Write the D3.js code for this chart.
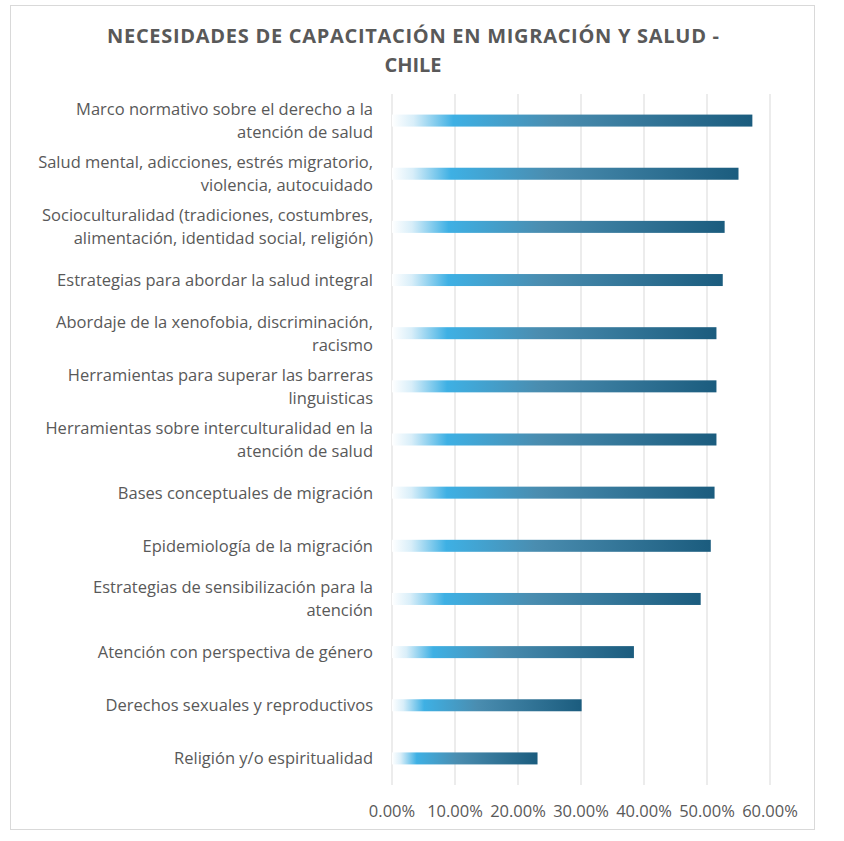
<!DOCTYPE html>
<html><head><meta charset="utf-8">
<script src="https://cdn.jsdelivr.net/npm/d3@7"></script>
<style>body{margin:0;background:#fff;font-family:"Open Sans",sans-serif}</style>
</head><body>
<svg id="chart" width="844" height="841"></svg>
<script>
var categories = [
  ["Marco normativo sobre el derecho a la", "atención de salud"],
  ["Salud mental, adicciones, estrés migratorio,", "violencia, autocuidado"],
  ["Socioculturalidad (tradiciones, costumbres,", "alimentación, identidad social, religión)"],
  ["Estrategias para abordar la salud integral"],
  ["Abordaje de la xenofobia, discriminación,", "racismo"],
  ["Herramientas para superar las barreras", "linguisticas"],
  ["Herramientas sobre interculturalidad en la", "atención de salud"],
  ["Bases conceptuales de migración"],
  ["Epidemiología de la migración"],
  ["Estrategias de sensibilización para la", "atención"],
  ["Atención con perspectiva de género"],
  ["Derechos sexuales y reproductivos"],
  ["Religión y/o espiritualidad"]
];
var values = [0.572, 0.550, 0.528, 0.525, 0.515, 0.515, 0.515, 0.512, 0.506, 0.490, 0.384, 0.301, 0.231];
var ticks = [0, 0.1, 0.2, 0.3, 0.4, 0.5, 0.6];

var svg = d3.select("#chart");
svg.append("rect").attr("x", 10.5).attr("y", 5.5).attr("width", 804).attr("height", 824)
  .attr("fill", "#fff").attr("stroke", "#d9d9d9");

svg.append("text").attr("text-anchor", "middle").attr("font-size", 20).attr("font-weight", "bold")
  .attr("fill", "#595959")
  .selectAll("tspan").data(["NECESIDADES DE CAPACITACIÓN EN MIGRACIÓN Y SALUD -", "CHILE"])
  .join("tspan").attr("x", 413).attr("y", function(d, i){ return 43 + i * 29; })
  .attr("textLength", function(d, i){ return i ? null : 612; })
  .text(function(d){ return d; });

var x = d3.scaleLinear().domain([0, 0.6]).range([392, 770]);
var y = d3.scaleBand().domain(d3.range(categories.length)).range([94, 785]);

var grad = svg.append("defs").append("linearGradient").attr("id", "barGrad");
[[0, "#ffffff"], [0.06, "#d8eef9"], [0.17, "#3eb0e4"], [0.45, "#4a8db0"], [1, "#1b5c7e"]].forEach(function(s){
  grad.append("stop").attr("offset", s[0]).attr("stop-color", s[1]);
});

svg.append("g").selectAll("line").data(ticks).join("line")
  .attr("x1", function(d){ return x(d); }).attr("x2", function(d){ return x(d); })
  .attr("y1", 94).attr("y2", 785).attr("stroke", "#d9d9d9");

svg.append("g").selectAll("rect").data(values).join("rect")
  .attr("x", x(0)).attr("y", function(d, i){ return y(i) + y.bandwidth() / 2 - 6; })
  .attr("width", function(d){ return x(d) - x(0); }).attr("height", 12)
  .attr("fill", "url(#barGrad)");

var labels = svg.append("g").attr("font-size", 16.5).attr("fill", "#595959").attr("text-anchor", "end");
categories.forEach(function(c, i){
  var cy = y(i) + y.bandwidth() / 2;
  var t = labels.append("text");
  c.forEach(function(line, j){
    t.append("tspan").attr("x", 373).attr("y", cy + 6 + (j - (c.length - 1) / 2) * 23).text(line);
  });
});

svg.append("g").attr("font-size", 16.5).attr("fill", "#595959").attr("text-anchor", "middle")
  .selectAll("text").data(ticks).join("text")
  .attr("x", function(d){ return x(d); }).attr("y", 817)
  .text(function(d){ return d3.format(".2%")(d); });
</script>
</body></html>
